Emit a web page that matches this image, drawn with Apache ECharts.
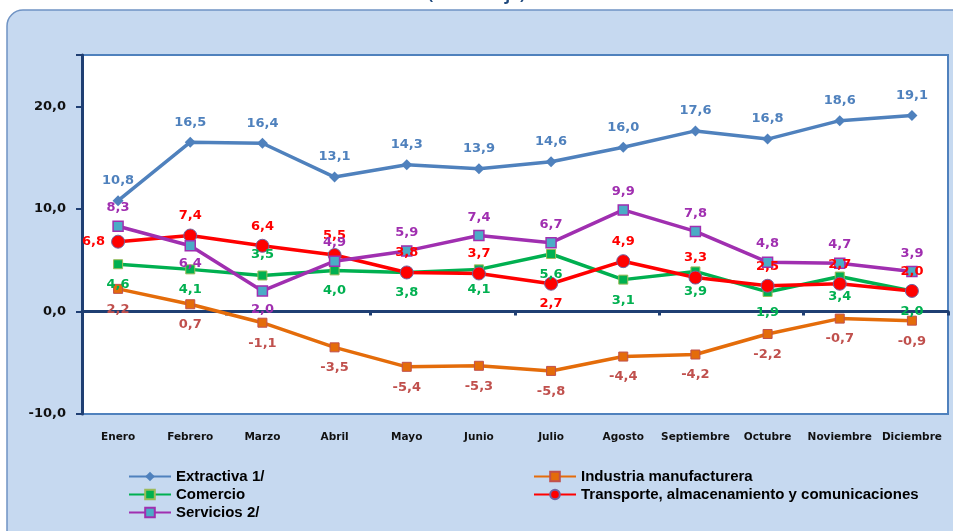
<!DOCTYPE html>
<html>
<head>
<meta charset="utf-8">
<script src="https://cdn.jsdelivr.net/npm/echarts@6/dist/echarts.min.js"></script>
<style>
html, body { margin: 0; padding: 0; background: #ffffff; }
#main { width: 953px; height: 531px; }
</style>
</head>
<body>
<div id="main"></div>
<script>
// meses
const months = ['Enero', 'Febrero', 'Marzo', 'Abril', 'Mayo', 'Junio', 'Julio', 'Agosto', 'Septiembre', 'Octubre', 'Noviembre', 'Diciembre']
// series (porcentaje)
const extractiva = [10.8, 16.5, 16.4, 13.1, 14.3, 13.9, 14.6, 16.0, 17.6, 16.8, 18.6, 19.1]
const industria = [2.2, 0.7, -1.1, -3.5, -5.4, -5.3, -5.8, -4.4, -4.2, -2.2, -0.7, -0.9]
const comercio = [4.6, 4.1, 3.5, 4.0, 3.8, 4.1, 5.6, 3.1, 3.9, 1.9, 3.4, 2.0]
const transporte = [6.8, 7.4, 6.4, 5.5, 3.8, 3.7, 2.7, 4.9, 3.3, 2.5, 2.7, 2.0]
const servicios = [8.3, 6.4, 2.0, 4.9, 5.9, 7.4, 6.7, 9.9, 7.8, 4.8, 4.7, 3.9]
const yTicks = [-10, 0, 10, 20]

// donde va cada etiqueta
const posComercio = ['bottom', 'bottom', 'top', 'bottom', 'bottom', 'bottom', 'bottom', 'bottom', 'bottom', 'bottom', 'bottom', 'bottom']
const posTransporte = ['left', 'top', 'top', 'top', 'top', 'top', 'bottom', 'top', 'top', 'top', 'top', 'top']
const posServicios = ['top', 'bottom', 'bottom', 'top', 'top', 'top', 'top', 'top', 'top', 'top', 'top', 'top']

const fmt = v => v.toFixed(1).replace('.', ',')

function withPos (values, positions) {
  return values.map((v, i) => ({ value: v, label: { position: positions[i] } }))
}

function lbl (color, position, distance) {
  return {
    show: true,
    position: position,
    distance: distance,
    color: color,
    fontFamily: 'DejaVu Sans',
    fontWeight: 'bold',
    fontSize: 13,
    formatter: p => fmt(p.value)
  }
}

function makeSeries (name, data, color, symbol, size, itemStyle, label) {
  return {
    name: name,
    type: 'line',
    data: data,
    symbol: symbol,
    symbolSize: size,
    lineStyle: { color: color, width: 3.5 },
    itemStyle: itemStyle,
    label: label,
    z: 3
  }
}

const legendText = { color: '#000000', fontSize: 15, fontWeight: 'bold', fontFamily: 'Liberation Sans' }

const chart = echarts.init(document.getElementById('main'))

const option = {
  backgroundColor: '#ffffff',
  animation: false,
  title: {
    text: '(Porcentaje)',
    left: 'center',
    top: -18,
    textStyle: { color: '#1f497d', fontSize: 16, fontWeight: 'bold', fontFamily: 'Open Sans' }
  },
  graphic: [
    {
      type: 'rect',
      z: -10,
      shape: { x: 7, y: 10, width: 980, height: 560, r: 16 },
      style: { fill: '#c6d9f0', stroke: '#6f93c4', lineWidth: 1.5 }
    }
  ],
  grid: {
    left: 82,
    right: 5,
    top: 55,
    bottom: 117,
    show: true,
    backgroundColor: '#ffffff',
    borderColor: '#4f81bd',
    borderWidth: 2
  },
  legend: [
    {
      data: ['Extractiva 1/', 'Comercio', 'Servicios 2/'],
      orient: 'vertical',
      left: 128,
      top: 469,
      height: 80,
      padding: 0,
      itemWidth: 42,
      itemHeight: 12,
      itemGap: 3,
      lineStyle: { width: 2 },
      textStyle: legendText
    },
    {
      data: ['Industria manufacturera', 'Transporte, almacenamiento y comunicaciones'],
      orient: 'vertical',
      left: 533,
      top: 469,
      height: 80,
      padding: 0,
      itemWidth: 42,
      itemHeight: 12,
      itemGap: 3,
      lineStyle: { width: 2 },
      textStyle: legendText
    }
  ],
  xAxis: [
    {
      type: 'category',
      data: months,
      axisLine: { onZero: true, lineStyle: { color: '#1f3f73', width: 3 } },
      axisTick: { show: true, length: 4, lineStyle: { color: '#1f3f73', width: 3 } },
      axisLabel: { show: false },
      z: 2
    },
    {
      type: 'category',
      data: months,
      position: 'bottom',
      axisLine: { show: false, onZero: false },
      axisTick: { show: false },
      axisLabel: {
        color: '#111111',
        fontFamily: 'DejaVu Sans',
        fontWeight: 'bold',
        fontSize: 10.5,
        margin: 18,
        interval: 0
      }
    }
  ],
  yAxis: {
    type: 'value',
    min: -10,
    max: 25,
    interval: 10,
    splitLine: { show: false },
    axisLine: { show: true, lineStyle: { color: '#1f3f73', width: 3 } },
    axisTick: { show: true, length: 6, lineStyle: { color: '#1f3f73', width: 2 } },
    axisLabel: {
      color: '#111111',
      fontFamily: 'DejaVu Sans',
      fontWeight: 'bold',
      fontSize: 13,
      margin: 16,
      formatter: v => (yTicks.indexOf(v) >= 0 ? fmt(v) : '')
    }
  },
  series: [
    makeSeries('Extractiva 1/', extractiva, '#4f81bd', 'diamond', 11,
      { color: '#4f81bd' }, lbl('#4f81bd', 'top', 8)),
    makeSeries('Industria manufacturera', industria, '#e46c0a', 'rect', 9,
      { color: '#e46c0a', borderColor: '#c0504d', borderWidth: 1 }, lbl('#c0504d', 'bottom', 9)),
    makeSeries('Comercio', withPos(comercio, posComercio), '#00b050', 'rect', 9,
      { color: '#00b050', borderColor: '#9bbb59', borderWidth: 1 }, lbl('#00b050', 'bottom', 9)),
    makeSeries('Transporte, almacenamiento y comunicaciones', withPos(transporte, posTransporte), '#ff0000', 'circle', 13,
      { color: '#ff0000', borderColor: '#7064a2', borderWidth: 1 }, lbl('#ff0000', 'top', 6)),
    makeSeries('Servicios 2/', withPos(servicios, posServicios), '#a02fb0', 'rect', 10,
      { color: '#4bacc6', borderColor: '#a02fb0', borderWidth: 1.5 }, lbl('#a02fb0', 'top', 6))
  ]
}

chart.setOption(option)
</script>
</body>
</html>
